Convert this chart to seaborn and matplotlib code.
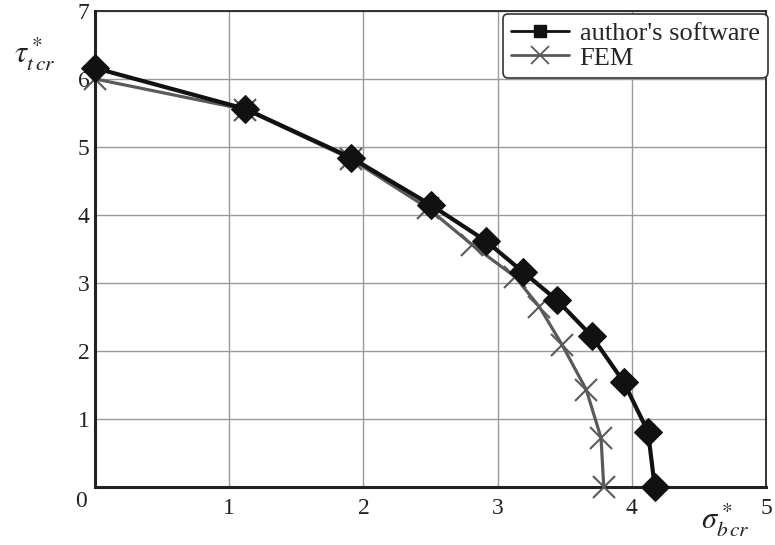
import numpy as np
import pandas as pd
import matplotlib as mpl
from matplotlib import pyplot as plt
from matplotlib.lines import Line2D
import seaborn as sns

# values
author_x = [0.00, 1.12, 1.91, 2.50, 2.91, 3.19, 3.44, 3.70, 3.94, 4.12, 4.17]
author_y = [6.16, 5.56, 4.84, 4.15, 3.62, 3.16, 2.75, 2.22, 1.54, 0.81, 0.00]
fem_x = [0.00, 1.12, 1.91, 2.48, 2.81, 3.13, 3.31, 3.48, 3.66, 3.77, 3.79]
fem_y = [6.00, 5.55, 4.82, 4.10, 3.56, 3.09, 2.65, 2.09, 1.43, 0.72, 0.00]
x_ticks = [1, 2, 3, 4, 5]
y_ticks = [1, 2, 3, 4, 5, 6, 7]

df_author = pd.DataFrame({"x": author_x, "y": author_y})
df_fem = pd.DataFrame({"x": fem_x, "y": fem_y})

sns.set_style("white")
plt.rcParams["font.family"] = ["Liberation Serif", "DejaVu Serif"]
plt.rcParams["mathtext.fontset"] = "stix"

fig = plt.figure(figsize=(7.75, 5.45), dpi=100)
ax = fig.add_axes([0.1226, 0.1064, 0.866, 0.8736])

sns.lineplot(data=df_fem, x="x", y="y", sort=False, ax=ax, color="#5a5a5a",
             linewidth=2.3, marker="x", markersize=16, markeredgewidth=1.5,
             markeredgecolor="#5a5a5a", zorder=3, clip_on=False)
sns.lineplot(data=df_author, x="x", y="y", sort=False, ax=ax, color="#111111",
             linewidth=3, marker="D", markersize=14, markeredgecolor="#111111",
             zorder=4, clip_on=False)

ax.set_xlim(0, 5)
ax.set_ylim(0, 7)
ax.set_xticks(x_ticks)
ax.set_yticks(y_ticks)
ax.grid(True, color="#9a9a9a", linewidth=1)
ax.tick_params(axis="both", length=0, labelsize=17, colors="#222222")
ax.tick_params(axis="x", pad=8)
ax.tick_params(axis="y", pad=4)
for s in ax.spines.values():
    s.set_color("#222222")
    s.set_linewidth(1.3)
ax.spines["left"].set_linewidth(2.2)
ax.spines["bottom"].set_linewidth(2.2)
ax.set_xlabel("")
ax.set_ylabel("")
ax.text(-0.012, -0.008, "0", transform=ax.transAxes, ha="right", va="top",
        fontsize=17, color="#222222")

fig.text(0.018, 0.885, r"$\tau^*_{t\,cr}$", fontsize=22, color="#222222")
fig.text(0.905, 0.03, r"$\sigma^*_{b\,cr}$", fontsize=22, color="#222222")

handles = [
    Line2D([], [], color="#111111", linewidth=2, marker="s", markersize=9),
    Line2D([], [], color="#5a5a5a", linewidth=2, marker="x", markersize=13,
           markeredgewidth=1.3),
]
leg = ax.legend(handles, ["author's software", "FEM"], loc="upper right",
                fontsize=19, frameon=True, fancybox=True, handlelength=2.2,
                borderpad=0.3, labelspacing=0.05, handletextpad=0.4,
                borderaxespad=0.1, bbox_to_anchor=(1.006, 1.0))
leg.get_frame().set_edgecolor("#333333")
leg.get_frame().set_linewidth(1.2)
leg.get_frame().set_alpha(1)

fig.savefig("out.png", dpi=100)
